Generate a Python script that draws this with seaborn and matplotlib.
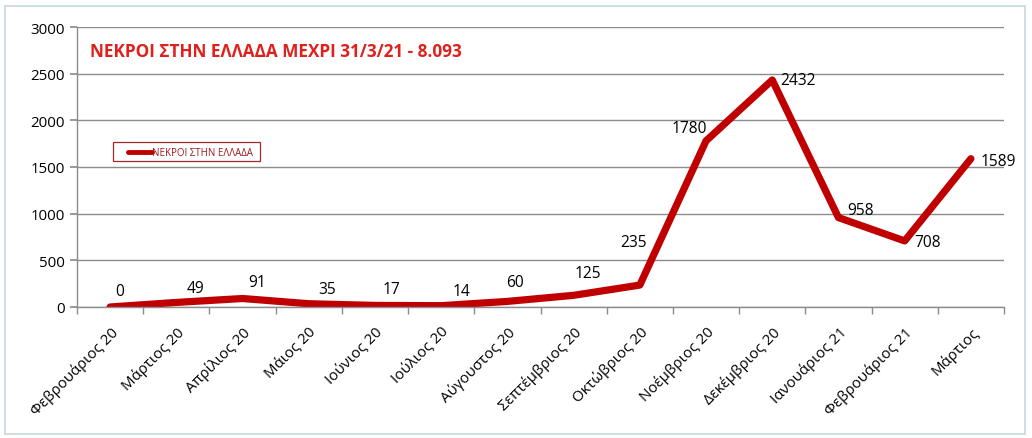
import matplotlib
matplotlib.use("Agg")
import matplotlib.pyplot as plt
import seaborn as sns
import pandas as pd
from matplotlib.patches import Rectangle
from matplotlib.ticker import FixedLocator, MultipleLocator

months = ["Φεβρουάριος 20", "Μάρτιος 20", "Απρίλιος 20", "Μάιος 20", "Ιούνιος 20",
          "Ιούλιος 20", "Αύγουστος 20", "Σεπτέμβριος 20", "Οκτώβριος 20",
          "Νοέμβριος 20", "Δεκέμβριος 20", "Ιανουάριος 21", "Φεβρουάριος 21", "Μάρτιος"]
deaths = [0, 49, 91, 35, 17, 14, 60, 125, 235, 1780, 2432, 958, 708, 1589]
series_name = "ΝΕΚΡΟΙ ΣΤΗΝ ΕΛΛΑΔΑ"
title_text = "ΝΕΚΡΟΙ ΣΤΗΝ ΕΛΛΑΔΑ ΜΕΧΡΙ 31/3/21 - 8.093"

# label offsets in pixels (style only)
label_dx = [10, 19, 15, 18, 16, 20, 8, 14, -6, -17, 26, 22, 23, 27]
label_dy = [16, 14, 17, 15, 16, 15, 19, 22, 43, 13, 0, 8, -1, -2]

sns.set_theme(style="white")
plt.rcParams['font.family'] = ['Open Sans', 'DejaVu Sans']

df = pd.DataFrame({"month": months, "deaths": deaths})

fig = plt.figure(figsize=(10.32, 4.39), dpi=100)
fig.patch.set_facecolor("white")
ax = fig.add_axes([77/1032, 1-308/439, (1004-77)/1032, (308-28)/439])

red = "#C00000"
sns.lineplot(data=df, x="month", y="deaths", ax=ax, color=red, linewidth=5.2,
             sort=False, legend=False, solid_joinstyle="round", solid_capstyle="round")

ax.set_xlim(-0.5, len(months) - 0.5)
ax.set_ylim(0, 3000)
ax.yaxis.set_major_locator(MultipleLocator(500))
ax.grid(axis="y", color="#8c8c8c", linewidth=1)
ax.set_axisbelow(True)
for s in ["top", "right"]:
    ax.spines[s].set_visible(False)
for s in ["left", "bottom"]:
    ax.spines[s].set_color("#8c8c8c")
    ax.spines[s].set_linewidth(1)

ax.set_xlabel("")
ax.set_ylabel("")
ax.set_xticks(range(len(months)))
ax.set_xticklabels(months, rotation=45, ha="right", rotation_mode="anchor",
                   fontsize=10.8, color="black")
ax.xaxis.set_minor_locator(FixedLocator([i - 0.5 for i in range(len(months) + 1)]))
ax.tick_params(axis="x", which="major", length=0, pad=12)
ax.tick_params(axis="x", which="minor", length=5, color="#8c8c8c", direction="out", bottom=True)
ax.tick_params(axis="y", which="major", length=5, color="#8c8c8c", direction="out",
               left=True, labelsize=10.8, labelcolor="black", pad=4)

for i, v in enumerate(deaths):
    ax.annotate(str(v), xy=(i, v), xytext=(label_dx[i] * 0.72, label_dy[i] * 0.72),
                textcoords="offset points", ha="center", va="center",
                fontsize=11.2, color="black")

ax.text(90/1032, 1-52/439, title_text, transform=fig.transFigure, fontsize=12.3,
        fontweight="bold", color="#E0201B", va="center", ha="left")

# legend box
fig.patches.append(Rectangle((113/1032, 1-162/439), 147/1032, 19/439,
                             transform=fig.transFigure, fill=False,
                             edgecolor="#A0282D", linewidth=0.9))
fig.lines.append(plt.Line2D([128/1032, 152/1032], [1-153/439, 1-153/439],
                            transform=fig.transFigure, color=red, linewidth=3.5,
                            solid_capstyle="round"))
fig.text(152/1032, 1-153/439, series_name, fontsize=7, color="#A01818",
         va="center", ha="left")

# chart frame
fig.patches.append(Rectangle((5/1032, 4/439), 1020/1032, 428/439,
                             transform=fig.transFigure, fill=False,
                             edgecolor="#c5d5df", linewidth=1.2))

fig.savefig("out.png", dpi=100, facecolor="white")
